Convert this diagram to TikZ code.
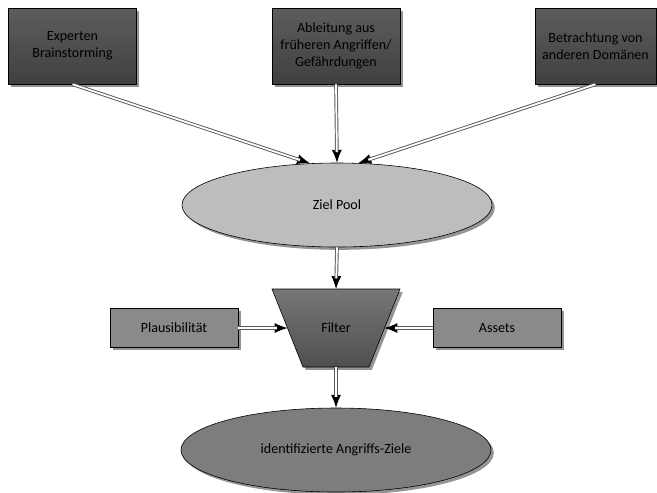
\documentclass[tikz,border=0pt]{standalone}
\usepackage{fontspec}
\setmainfont{Carlito}
\usetikzlibrary{shadows, shapes.geometric, arrows.meta}

\definecolor{srcgray}{HTML}{4B4B4B}
\definecolor{poolgray}{HTML}{BDBDBD}
\definecolor{filtgray}{HTML}{5E5E5E}
\definecolor{sidegray}{HTML}{8A8A8A}
\definecolor{zielgray}{HTML}{7D7D7D}

\begin{document}
\begin{tikzpicture}[x=0.03cm, y=-0.03cm,
  every node/.style={font=\fontsize{12}{14.5}\selectfont, text=black},
  shadowed/.style={drop shadow={shadow xshift=2.4pt, shadow yshift=-2.4pt, fill=black!42, opacity=1}},
  srcbox/.style={rectangle, draw=black, line width=0.5pt, top color=srcgray!90!white, bottom color=srcgray!85!black,
    minimum width=3.84cm, minimum height=2.28cm, inner sep=0pt, align=center, shadowed},
  sidebox/.style={rectangle, draw=black, line width=0.5pt, fill=sidegray,
    minimum width=3.84cm, minimum height=1.17cm, inner sep=0pt, shadowed},
  blob/.style={ellipse, draw=black, line width=0.5pt, minimum width=9.3cm, minimum height=2.52cm, inner sep=0pt, shadowed},
  flowtip/.style={draw=black, line width=0.7pt, -{Latex[length=11pt, width=8.5pt]}},
  flow/.style={draw=black!65, line width=0.8pt, double=white, double distance=1.5pt, shorten >=9pt}]
  \useasboundingbox (0,0) rectangle (657,492);

  % sources
  \node[srcbox] (experten) at (72.5,46) {Experten\\Brainstorming};
  \node[srcbox] (ableitung) at (336,46) {Ableitung aus\\früheren Angriffen/\\Gefährdungen};
  \node[srcbox, minimum width=3.63cm] (domaenen) at (595.5,46) {Betrachtung von\\anderen Domänen};

  % pool
  \node[blob, fill=poolgray] (pool) at (337,205) {Ziel Pool};

  % filter (drawn as a path, wide side on top)
  \draw[line width=0.5pt, top color=filtgray!85!white, bottom color=filtgray!85!black, shadowed]
    (272,289) -- (400,289) -- (369,367) -- (303,367) -- cycle;
  \node (filter) at (336,328) {Filter};
  \coordinate (filterN) at (336,289);
  \coordinate (filterS) at (336,367);
  \coordinate (filterW) at (287.5,328);
  \coordinate (filterE) at (384.5,328);

  \node[sidebox] (plaus) at (174,328) {Plausibilität};
  \node[sidebox] (assets) at (497,328) {Assets};

  % result
  \node[blob, fill=zielgray] (ziele) at (336,450) {identifizierte Angriffs-Ziele};

  % connectors: black line with tip, then the double line on top
  \foreach \from/\to in {experten.south/pool.123, ableitung.south/pool.north, domaenen.south/pool.63,
      pool.south/filterN, plaus.east/filterW, assets.west/filterE, filterS/ziele.north} {
    \draw[flowtip] (\from) -- (\to);
    \draw[flow] (\from) -- (\to);
  }
\end{tikzpicture}
\end{document}
